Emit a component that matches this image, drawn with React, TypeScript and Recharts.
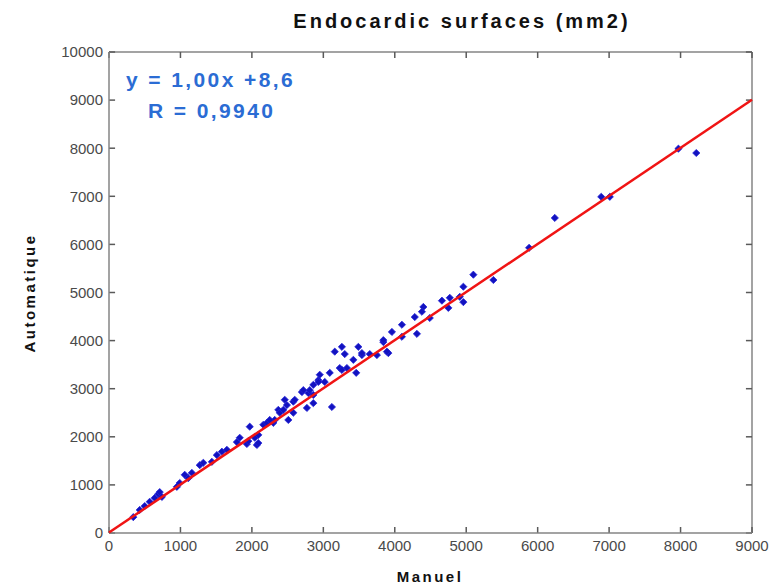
import React from 'react';
import { ScatterChart, Scatter, XAxis, YAxis, ReferenceLine } from 'recharts';

// Manual vs automatic endocardic surfaces (mm2)
const manuel = [
  340, 430, 500, 570, 640, 690, 710, 740, 950, 990, 1060, 1110, 1160, 1270, 1320, 1440, 1510, 1580, 1650,
  1790, 1830, 1930, 1950, 2040, 2070, 2090, 1970, 2090, 2160, 2210, 2300, 2320, 2250, 2370, 2390, 2440,
  2510, 2460, 2490, 2580, 2580, 2600, 2700, 2720, 2770, 2790, 2810, 2860, 2860, 2860, 2930, 2930, 2950,
  3020, 3090, 3120, 3160, 3230, 3260, 3260, 3300, 3330, 3420, 3460, 3490, 3540, 3540, 3650, 3750, 3840,
  3910, 3890, 3840, 3960, 4100, 4100, 4310, 4280, 4400, 4380, 4490, 4660, 4750, 4770, 4910, 4960, 4960,
  5100, 5380, 5880, 6240, 6890, 7010, 7970, 8220,
];
const automatique = [
  330, 480, 560, 650, 730, 810, 850, 750, 960, 1040, 1210, 1140, 1250, 1410, 1460, 1480, 1620, 1690, 1730,
  1890, 1980, 1850, 1910, 1980, 1830, 1870, 2210, 2040, 2250, 2290, 2290, 2350, 2350, 2560, 2500, 2560,
  2350, 2770, 2660, 2730, 2500, 2770, 2930, 2970, 2600, 2910, 2970, 2870, 2700, 3080, 3180, 3140, 3290,
  3140, 3330, 2620, 3770, 3430, 3390, 3870, 3720, 3430, 3600, 3330, 3870, 3700, 3740, 3720, 3700, 3970,
  3740, 3770, 4010, 4180, 4080, 4330, 4140, 4490, 4700, 4600, 4470, 4830, 4680, 4890, 4910, 4800, 5120,
  5370, 5260, 5930, 6550, 6990, 6990, 7990, 7900,
];

// fit: y = 1,00x + 8,6
const fitX = [0, 9000];
const slope = 1.0;
const intercept = 8.6;

const xTicks = [0, 1000, 2000, 3000, 4000, 5000, 6000, 7000, 8000, 9000];
const yTicks = [0, 1000, 2000, 3000, 4000, 5000, 6000, 7000, 8000, 9000, 10000];
const X_MAX = 9000;
const Y_MAX = 10000;

const points = manuel.map((m, i) => ({ x: m, y: automatique[i] }));
const fitLine = fitX.map((x) => ({ x, y: slope * x + intercept }));

const FONT = '"Liberation Sans", Arial, sans-serif';
const AXIS = '#858585';
const TICK = '#5a5a5a';
// inward tick length, in data units (~6px)
const XT = 85;
const YT = 125;

const Marker = (props: any) => {
  const { cx, cy } = props;
  if (cx == null || cy == null) return <g />;
  const r = 3.6;
  return (
    <polygon
      points={`${cx},${cy - r} ${cx + r},${cy} ${cx},${cy + r} ${cx - r},${cy}`}
      fill="#1212c0"
      stroke="#2424d8"
      strokeWidth={0.8}
    />
  );
};

const NoShape = () => <g />;

const tickStyle = { fill: '#4a4a4a', fontSize: 15, fontFamily: FONT };

export default function App() {
  return (
    <div style={{ position: 'absolute', left: 0, top: 0, width: 776, height: 588, background: '#fff' }}>
      <ScatterChart width={776} height={588} margin={{ top: 52, right: 24, bottom: 0, left: 0 }}>
        <XAxis
          dataKey="x"
          type="number"
          domain={[0, X_MAX]}
          ticks={xTicks}
          height={55}
          tickSize={0}
          tickMargin={7}
          tickLine={false}
          stroke={AXIS}
          strokeWidth={1.5}
          tick={tickStyle}
          interval={0}
        />
        <YAxis
          dataKey="y"
          type="number"
          domain={[0, Y_MAX]}
          ticks={yTicks}
          width={109}
          tickSize={0}
          tickMargin={6}
          tickLine={false}
          stroke={AXIS}
          strokeWidth={1.5}
          tick={tickStyle}
          interval={0}
        />
        {/* box top and right */}
        <ReferenceLine y={Y_MAX} stroke={AXIS} strokeWidth={1.5} />
        <ReferenceLine x={X_MAX} stroke={AXIS} strokeWidth={1.5} />
        {/* inward ticks on all four sides */}
        {xTicks.map((t) => (
          <ReferenceLine key={`xb${t}`} segment={[{ x: t, y: 0 }, { x: t, y: YT }]} stroke={TICK} strokeWidth={1.5} />
        ))}
        {xTicks.map((t) => (
          <ReferenceLine key={`xt${t}`} segment={[{ x: t, y: Y_MAX - YT }, { x: t, y: Y_MAX }]} stroke={TICK} strokeWidth={1.5} />
        ))}
        {yTicks.map((t) => (
          <ReferenceLine key={`yl${t}`} segment={[{ x: 0, y: t }, { x: XT, y: t }]} stroke={TICK} strokeWidth={1.5} />
        ))}
        {yTicks.map((t) => (
          <ReferenceLine key={`yr${t}`} segment={[{ x: X_MAX - XT, y: t }, { x: X_MAX, y: t }]} stroke={TICK} strokeWidth={1.5} />
        ))}
        <Scatter data={points} shape={Marker} isAnimationActive={false} />
        <Scatter
          data={fitLine}
          line={{ stroke: '#f01414', strokeWidth: 2.5 }}
          shape={NoShape}
          isAnimationActive={false}
        />
        <text x={462} y={28} textAnchor="middle" fontFamily={FONT} fontWeight="bold" fontSize={20} letterSpacing={3} fill="#111">
          Endocardic surfaces (mm2)
        </text>
        <text x={126} y={87} fontFamily={FONT} fontWeight="bold" fontSize={21} letterSpacing={2.4} fill="#2b6cd4">
          y = 1,00x +8,6
        </text>
        <text x={148} y={118} fontFamily={FONT} fontWeight="bold" fontSize={21} letterSpacing={2.4} fill="#2b6cd4">
          R = 0,9940
        </text>
        <text x={430} y={582} textAnchor="middle" fontFamily={FONT} fontWeight="bold" fontSize={15} letterSpacing={2.5} fill="#111">
          Manuel
        </text>
        <text
          x={35}
          y={293}
          textAnchor="middle"
          transform="rotate(-90 35 293)"
          fontFamily={FONT}
          fontWeight="bold"
          fontSize={15}
          letterSpacing={2.5}
          fill="#111"
        >
          Automatique
        </text>
      </ScatterChart>
    </div>
  );
}
